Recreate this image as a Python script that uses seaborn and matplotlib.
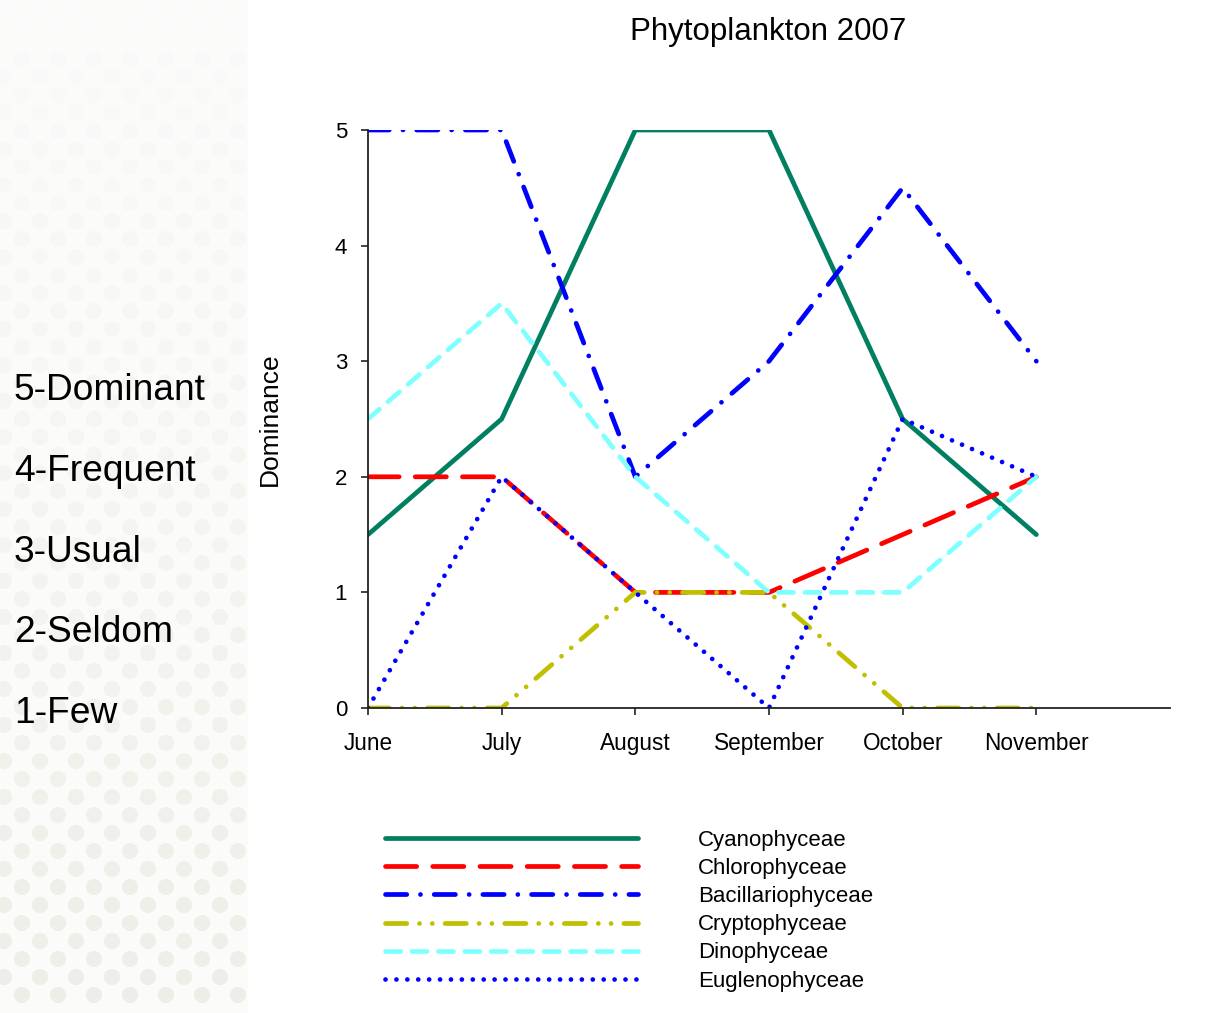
import matplotlib
matplotlib.use("Agg")
import matplotlib.pyplot as plt
import seaborn as sns
import pandas as pd
import numpy as np

# chart values
months = ["June", "July", "August", "September", "October", "November"]
cyanophyceae = [1.5, 2.5, 5, 5, 2.5, 1.5]
chlorophyceae = [2, 2, 1, 1, 1.5, 2]
bacillariophyceae = [5, 5, 2, 3, 4.5, 3]
cryptophyceae = [0, 0, 1, 1, 0, 0]
dinophyceae = [2.5, 3.5, 2, 1, 1, 2]
euglenophyceae = [0, 2, 1, 0, 2.5, 2]
scale_labels = ["5-Dominant", "4-Frequent", "3-Usual", "2-Seldom", "1-Few"]

series = [
    ("Cyanophyceae", cyanophyceae, "#008060", "-"),
    ("Chlorophyceae", chlorophyceae, "#FF0000", (0, (6.6, 3.4))),
    ("Bacillariophyceae", bacillariophyceae, "#0000FF", (0, (4.5, 2.9, 0.01, 2.9))),
    ("Cryptophyceae", cryptophyceae, "#C0C000", (0, (4.5, 2.7, 0.01, 2.7, 0.01, 2.7))),
    ("Dinophyceae", dinophyceae, "#80FFFF", (0, (3.2, 2.4))),
    ("Euglenophyceae", euglenophyceae, "#0000FF", (0, (0.01, 2.3))),
]

sns.set_theme(style="ticks")
plt.rcParams["font.family"] = ["Liberation Sans", "DejaVu Sans"]
plt.rcParams["text.color"] = "black"
plt.rcParams["xtick.labelcolor"] = "black"
plt.rcParams["ytick.labelcolor"] = "black"
plt.rcParams["axes.labelcolor"] = "black"

fig = plt.figure(figsize=(12.28, 10.13), dpi=100)
fig.patch.set_facecolor("white")

# faint dotted decoration on the left side
bg = fig.add_axes([0, 0, 248 / 1228, 1], zorder=-5)
bg.set_xlim(0, 248)
bg.set_ylim(1013, 0)
bg.axis("off")
bg.add_patch(plt.Rectangle((0, 0), 248, 1013, color="#FBFBF9", zorder=0))
px, py, pc = [], [], []
for r, yy in enumerate(np.arange(5, 1013, 18)):
    start = 4 if r % 2 == 0 else 22
    for xx in np.arange(start, 250, 36):
        px.append(xx)
        py.append(yy)
        t = yy / 1013
        g = 250 - 12 * t
        pc.append((g / 255, g / 255, (g - 6 * t) / 255))
bg.scatter(px, py, s=135, c=pc, linewidths=0, zorder=1)

ax = fig.add_axes([368 / 1228, 1 - 708 / 1013, (1170 - 368) / 1228, (708 - 130) / 1013])
ax.set_facecolor("none")

x = np.arange(len(months))
for name, vals, col, ls in series:
    df = pd.DataFrame({"month": x, "value": vals})
    sns.lineplot(data=df, x="month", y="value", ax=ax, color=col, linestyle=ls,
                 linewidth=3.4, label=name, dash_capstyle="round",
                 solid_capstyle="round", solid_joinstyle="miter")

ax.set_xlim(0, 6)
ax.set_ylim(0, 5)
ax.set_xticks(x)
ax.set_xticklabels(months, fontsize=16.3)
ax.set_yticks(range(6))
ax.set_yticklabels([str(i) for i in range(6)], fontsize=16)
ax.tick_params(axis="x", direction="out", length=5, width=1.2, colors="#222222",
               labelcolor="black", pad=12)
ax.tick_params(axis="y", direction="out", length=5, width=1.2, colors="#222222",
               labelcolor="black", pad=10)
ax.set_xlabel("")
ax.set_ylabel("Dominance", fontsize=19, labelpad=38)
sns.despine(ax=ax)
for s in ["left", "bottom"]:
    ax.spines[s].set_color("#222222")
    ax.spines[s].set_linewidth(1.3)

handles, labels = ax.get_legend_handles_labels()
ax.get_legend().remove()
fig.legend(handles, labels, loc="upper left", bbox_to_anchor=(385 / 1228, 1 - 830 / 1013),
           frameon=False, fontsize=16, handlelength=11.4, handletextpad=2.7,
           labelspacing=0.32, borderpad=0, borderaxespad=0)

fig.text(768 / 1228, 1 - 32 / 1013, "Phytoplankton 2007", fontsize=22.5, ha="center", va="center")

for i, lab in enumerate(scale_labels):
    fig.text(14 / 1228, 1 - (391 + i * 80.5) / 1013, lab, fontsize=26.7, ha="left", va="center")

fig.savefig("out.png", dpi=100)
